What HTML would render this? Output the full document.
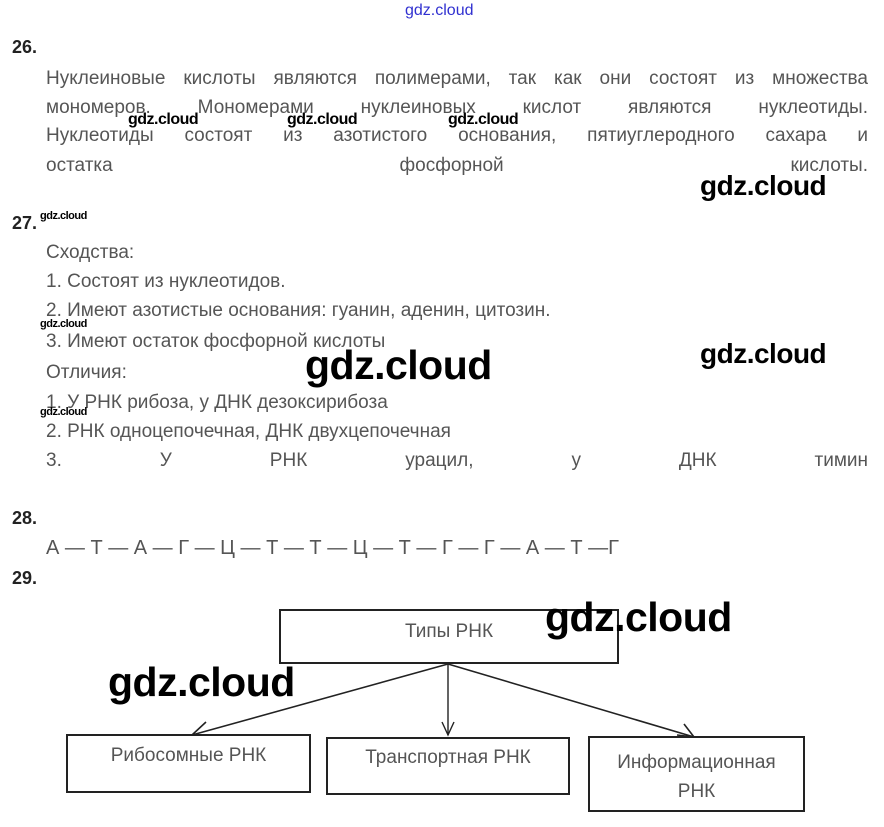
<!DOCTYPE html>
<html><head><meta charset="utf-8"><style>
body{margin:0;width:884px;height:827px;background:#fff;position:relative;overflow:hidden;font-family:"Liberation Sans",sans-serif}
.a{position:absolute;white-space:nowrap;line-height:1}
.t{font-size:19px;color:#555}
.j{text-align:justify;text-align-last:justify;white-space:normal}
.n{font-size:18px;font-weight:bold;color:#222}
.w{color:#000;font-weight:bold;letter-spacing:-0.5px}
</style></head><body>
<div class="a" style="left:405px;top:3px;font-size:16px;color:#3030d0">gdz.cloud</div>
<div class="a n" style="left:12px;top:38px">26.</div>
<div class="a t j" style="left:46px;top:69px;width:822px">Нуклеиновые кислоты являются полимерами, так как они состоят из множества</div>
<div class="a t j" style="left:46px;top:98px;width:822px">мономеров. Мономерами нуклеиновых кислот являются нуклеотиды.</div>
<div class="a t j" style="left:46px;top:126px;width:822px">Нуклеотиды состоят из азотистого основания, пятиуглеродного сахара и</div>
<div class="a t j" style="left:46px;top:156px;width:822px">остатка фосфорной кислоты.</div>
<div class="a w" style="left:128px;top:112px;font-size:16px">gdz.cloud</div>
<div class="a w" style="left:287px;top:112px;font-size:16px">gdz.cloud</div>
<div class="a w" style="left:448px;top:112px;font-size:16px">gdz.cloud</div>
<div class="a w" style="left:700px;top:172px;font-size:28px">gdz.cloud</div>
<div class="a n" style="left:12px;top:214px">27.</div>
<div class="a w" style="left:40px;top:211px;font-size:11px">gdz.cloud</div>
<div class="a t" style="left:46px;top:243px">Сходства:</div>
<div class="a t" style="left:46px;top:272px">1. Состоят из нуклеотидов.</div>
<div class="a t" style="left:46px;top:301px">2. Имеют азотистые основания: гуанин, аденин, цитозин.</div>
<div class="a w" style="left:40px;top:319px;font-size:11px">gdz.cloud</div>
<div class="a t" style="left:46px;top:332px">3. Имеют остаток фосфорной кислоты</div>
<div class="a t" style="left:46px;top:363px">Отличия:</div>
<div class="a w" style="left:305px;top:345px;font-size:41px">gdz.cloud</div>
<div class="a w" style="left:700px;top:340px;font-size:28px">gdz.cloud</div>
<div class="a t" style="left:46px;top:393px">1. У РНК рибоза, у ДНК дезоксирибоза</div>
<div class="a w" style="left:40px;top:407px;font-size:11px">gdz.cloud</div>
<div class="a t" style="left:46px;top:422px">2. РНК одноцепочечная, ДНК двухцепочечная</div>
<div class="a t j" style="left:46px;top:451px;width:822px">3. У РНК урацил, у ДНК тимин</div>
<div class="a n" style="left:12px;top:509px">28.</div>
<div class="a t" style="left:46px;top:538px;font-size:20px">А — Т — А — Г — Ц — Т — Т — Ц — Т — Г — Г — А — Т —Г</div>
<div class="a n" style="left:12px;top:569px">29.</div>
<svg class="a" style="left:0;top:0" width="884" height="827">
<g fill="none" stroke="#222" stroke-width="2">
<rect x="280" y="610" width="338" height="53"/>
<rect x="67" y="735" width="243" height="57"/>
<rect x="327" y="738" width="242" height="56"/>
<rect x="589" y="737" width="215" height="74"/>
<line x1="448" y1="664" x2="192" y2="735" stroke-width="1.6"/>
<line x1="448" y1="664" x2="448" y2="735" stroke-width="1.4"/>
<line x1="448" y1="664" x2="694" y2="737" stroke-width="1.6"/>
<polyline points="206,722 192,735 210,735" stroke-width="1.6"/>
<polyline points="442,722 448,735 454,722" stroke-width="1.4"/>
<polyline points="677,735 694,737 684,724" stroke-width="1.6"/>
</g>
</svg>
<div class="a t" style="left:280px;top:622px;width:338px;text-align:center">Типы РНК</div>
<div class="a t" style="left:67px;top:746px;width:243px;text-align:center">Рибосомные РНК</div>
<div class="a t" style="left:327px;top:748px;width:242px;text-align:center">Транспортная РНК</div>
<div class="a t" style="left:589px;top:748px;width:215px;text-align:center;line-height:29px;white-space:normal">Информационная<br>РНК</div>
<div class="a w" style="left:545px;top:597px;font-size:41px">gdz.cloud</div>
<div class="a w" style="left:108px;top:662px;font-size:41px">gdz.cloud</div>
</body></html>
